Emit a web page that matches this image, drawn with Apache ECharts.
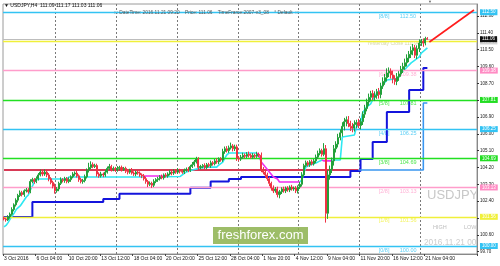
<!DOCTYPE html>
<html><head><meta charset="utf-8">
<script src="https://cdn.jsdelivr.net/npm/echarts@6/dist/echarts.min.js"></script>
<style>html,body{margin:0;padding:0;background:#fff}#c{width:500px;height:266px}</style>
</head><body><div id="c"></div>
<script>
// ---- DATA ----
const firstOpen = 101.50;
const closes = [
101.45,101.40,101.55,101.70,101.95,102.20,102.45,102.70,102.85,102.75,
102.95,103.00,102.90,103.45,103.55,103.45,103.60,103.80,103.95,103.85,
103.95,103.80,103.60,103.40,103.20,102.95,103.05,103.35,103.55,103.50,
103.60,103.45,103.55,103.70,103.85,103.90,103.75,103.55,103.45,103.50,
103.70,104.05,104.20,104.35,104.25,104.30,103.85,103.75,103.85,103.80,
103.95,104.15,104.25,104.10,104.15,104.05,104.15,104.20,104.10,104.15,
104.00,103.95,104.05,103.90,103.85,103.95,103.90,103.80,103.75,103.60,
103.45,103.30,103.35,103.25,103.45,103.55,103.60,103.70,103.65,103.80,
103.75,103.85,103.95,103.90,104.00,103.95,104.05,104.00,103.95,104.05,
104.10,104.05,104.25,104.35,104.50,104.65,104.20,104.25,104.30,104.20,
104.35,104.30,104.45,104.40,104.55,104.50,104.65,104.60,105.05,105.20,
105.10,105.25,105.35,105.20,105.30,104.70,104.65,104.75,104.85,104.80,
104.90,104.85,104.75,104.85,104.80,104.90,104.85,104.10,103.95,103.80,
103.60,103.35,103.10,102.95,103.05,102.75,102.90,103.05,102.95,103.10,
103.00,103.15,103.05,103.10,102.95,103.15,103.30,103.80,104.30,104.45,
104.35,104.50,104.40,104.55,104.75,104.95,105.10,104.90,105.20,101.75,
103.80,104.10,104.55,105.20,105.45,105.80,106.05,106.40,106.65,106.75,
106.55,106.40,106.30,106.50,106.60,106.45,106.65,107.05,107.35,107.70,
107.95,108.15,107.95,108.05,108.25,108.10,108.55,108.80,109.00,109.25,
109.35,109.15,108.95,108.80,109.05,109.20,109.45,109.60,109.80,110.05,
110.25,110.45,110.60,110.20,110.55,110.85,110.95,110.85,111.09,111.06];
// wick lengths in hundredths of a yen
const upperWick = [
8,6,10,9,12,8,10,9,12,10, 8,10,9,12,10,8,12,10,14,9, 15,12,10,8,9,14,10,9,12,8,
10,9,12,8,10,9,11,8,10,9, 12,10,25,18,12,10,10,9,12,8, 12,10,14,9,10,8,12,9,10,8,
9,10,8,12,9,8,10,9,8,10, 9,8,10,9,12,8,10,9,12,8, 10,9,12,8,10,9,12,8,10,9,
10,12,9,14,10,12,10,9,8,12, 9,10,12,9,10,14,9,10,15,12, 14,12,18,10,12,12,10,12,14,10,
12,15,10,12,9,14,10,15,12,10, 12,10,9,14,10,12,10,9,12,8, 10,9,12,8,10,9,12,15,10,12,
10,9,12,10,14,15,12,10,30,20, 25,20,18,20,15,20,18,22,20,18, 20,15,18,22,15,20,18,15,20,18,
20,15,18,22,15,20,18,22,20,25, 20,15,22,18,20,15,18,20,22,20, 18,22,20,15,18,20,12,15,10,8];
const lowerWick = [
8,10,6,9,8,10,9,12,8,10, 12,9,10,8,10,12,9,10,8,12, 10,12,14,10,12,15,10,12,9,10,
12,10,9,12,8,10,9,12,10,12, 10,9,12,10,9,8,14,10,9,12, 10,8,9,12,10,9,8,10,12,9,
10,12,9,8,10,12,9,10,12,10, 12,15,10,14,10,9,12,10,8,10, 9,10,8,12,10,9,10,12,9,10,
8,10,9,8,10,9,15,10,9,12, 10,9,12,10,9,10,12,9,10,12, 10,12,9,14,12,15,12,10,9,12,
10,12,9,10,12,9,10,15,12,14, 12,15,14,12,10,15,20,12,10,12, 10,12,9,10,12,14,10,12,10,9,
10,12,9,10,12,9,10,12,10,50, 30,25,20,25,20,18,15,20,22,25, 20,25,22,18,20,15,22,18,20,15,
20,22,15,20,18,22,20,15,18,20, 22,20,25,18,20,22,15,20,18,20, 22,20,25,15,20,18,15,20,12,3];

const slotCount = 234;
const dateTickIdx = [0,16,32,48,64,80,96,112,128,144,160,176,192,208];
const dateTickLabels = ["3 Oct 2016","6 Oct 04:00","10 Oct 20:00","13 Oct 12:00","18 Oct 04:00","20 Oct 20:00","25 Oct 12:00","28 Oct 04:00","1 Nov 20:00","4 Nov 12:00","9 Nov 04:00","11 Nov 20:00","16 Nov 12:00","21 Nov 04:00"];
const weekStartIdx = [27,57,87,117,147,177,207];
const priceTicks = [99.70,100.60,101.50,102.40,103.30,104.20,105.10,106.00,106.90,107.80,108.70,109.60,110.50,111.40,112.30];

const murreyValues = [100.00,101.56,103.13,104.69,106.25,107.81,109.38,110.94,112.50];
const murreyNames = ["[0/8]","[1/8]","[2/8]","[3/8]","[4/8]","[5/8]","[6/8]","[7/8]","[8/8]"];
const currentPrice = 111.06;

const cyanSeg1 = [[0,101.02],[1,101.10],[2,101.25],[3,101.44],[4,101.60],[5,101.76],[6,101.95],[7,102.05],[8,102.14],[9,102.30],[10,102.46],[11,102.62],[12,102.73],[13,103.00],[14,103.20],[15,103.42],[16,103.53],[17,103.58],[31,103.58],[32,103.69],[69,103.69]];
const magentaSeg1 = [[69,103.69],[70,103.74],[78,103.74],[79,103.70]];
const cyanSeg2 = [[79,103.70],[87,103.72],[88,103.80],[90,103.96],[93,104.06],[97,104.17],[101,104.22],[105,104.22],[106,104.33],[108,104.49],[109,104.70],[110,104.87],[111,104.97],[125,104.97]];
const magentaSeg2 = [[125,104.97],[126,104.76],[127,104.49],[129,104.22],[131,103.96],[133,103.69],[135,103.58],[136,103.42],[146,103.42]];
const cyanSeg3 = [[146,103.42],[147,103.53],[148,103.90],[149,104.22],[151,104.33],[154,104.44],[156,104.55],[157,104.60]];
const magentaSeg3 = [[157,104.60],[158,104.55],[162,104.55]];
const cyanSeg4 = [[162,104.60],[166,104.60],[167,105.83],[173,105.94],[174,106.36],[176,106.58],[177,107.11],[179,107.43],[181,107.60],[182,107.81],[184,108.18],[186,108.34],[187,108.61],[189,108.88],[194,108.95],[195,109.04],[196,109.25],[198,109.45],[199,109.57],[201,109.79],[203,109.95],[205,110.11],[206,110.32],[208,110.50],[209,110.59]];
const blueSteps = [[0,101.55],[14,102.35],[49,102.51],[57,102.80],[92,103.12],[102,103.45],[111,103.58],[117,103.69],[171,104.01],[176,104.65],[182,105.56],[189,107.17],[200,108.34],[207,109.52],[209,109.52]];
const lightBlueSteps = [[175,104.06],[207,107.65],[209,107.65]];
const redLevel = [[0,104.06],[175,104.06]];
const projection = [[210,110.91],[232,112.62]];

// ---- STYLE ----
const murreyColors = ['#33c3f3','#f0f03a','#ff9dcb','#22e022','#33c3f3','#22e022','#ff9dcb','#f0f03a','#33c3f3'];
const axisBoxColors = ['#33c3f3','#f0f03a','#ff8cc4','#22dd22','#33c3f3','#22dd22','#ff8cc4','#d2d2d2','#33c3f3'];
const FONT = 'Liberation Sans';

const cats = Array.from({length: slotCount}, (_, i) => String(i));
const candles = closes.map((c, i) => {
  const o = i === 0 ? firstOpen : closes[i - 1];
  const hi = Math.max(o, c) + upperWick[i] / 100;
  const lo = Math.min(o, c) - lowerWick[i] / 100;
  return [o, c, +lo.toFixed(2), +hi.toFixed(2)];
});
const tickLabelMap = {};
dateTickIdx.forEach((k, j) => tickLabelMap[k] = dateTickLabels[j]);

const levelMarks = murreyValues.map((v, k) => ({
  yAxis: v,
  lineStyle: {color: murreyColors[k], width: 1.3, type: 'solid'},
  label: {show: true, position: 'end', distance: 3, formatter: v.toFixed(2), color: '#fff',
          backgroundColor: axisBoxColors[k], padding: [1, 2, 0, 2], fontSize: 4.5, fontFamily: FONT}
}));
levelMarks.push({
  yAxis: currentPrice,
  lineStyle: {color: '#bdbdbd', width: 1, type: 'solid'},
  label: {show: true, position: 'end', distance: 3, formatter: currentPrice.toFixed(2), color: '#fff',
          backgroundColor: '#111', padding: [1, 2, 0, 2], fontSize: 4.5, fontFamily: FONT}
});

const innerLabels = murreyValues.map((v, k) => ({
  value: [185, v],
  label: {color: murreyColors[k], formatter: '{a|' + murreyNames[k] + '}{b|' + v.toFixed(2) + '}'}
})).filter((d, k) => k !== 7);

function lineSeries(data, color, width, extra) {
  return Object.assign({type: 'line', data: data, symbol: 'none', silent: true,
    lineStyle: {color: color, width: width}, z: 3}, extra || {});
}

const chart = echarts.init(document.getElementById('c'), null, {renderer: 'canvas'});
chart.setOption({
  animation: false,
  backgroundColor: '#fff',
  grid: {left: 3, right: 23, top: 4, bottom: 12, show: true, borderColor: '#9a9a9a', borderWidth: 1},
  xAxis: {
    type: 'category', data: cats, boundaryGap: true,
    axisLine: {show: true, lineStyle: {color: '#888'}},
    axisTick: {show: true, length: 2, interval: (i) => tickLabelMap[i] !== undefined, lineStyle: {color: '#444'}},
    axisLabel: {interval: (i) => tickLabelMap[i] !== undefined, formatter: (v, i) => tickLabelMap[+v] || '',
                fontSize: 5, color: '#111', align: 'left', margin: 2, fontFamily: FONT},
    splitLine: {show: true, interval: (i) => weekStartIdx.indexOf(i + 1) >= 0,
                lineStyle: {color: '#7a7a7a', type: [2, 2], width: 1}}
  },
  yAxis: {
    type: 'value', position: 'right', min: 99.572, max: 112.941, scale: true,
    splitLine: {show: false},
    axisLine: {show: true, lineStyle: {color: '#888'}},
    axisTick: {show: true, length: 2, customValues: priceTicks, lineStyle: {color: '#333'}},
    axisLabel: {customValues: priceTicks, formatter: (v) => v.toFixed(2), fontSize: 4.5, color: '#222', margin: 3, fontFamily: FONT}
  },
  series: [
    {type: 'line', data: [], z: 1, silent: true,
     markLine: {silent: true, symbol: ['none', 'none'], animation: false, data: levelMarks}},
    {type: 'scatter', data: innerLabels, symbolSize: 0, z: 1, silent: true,
     label: {show: true, position: [0, 1], align: 'left', verticalAlign: 'top', fontSize: 5.5, fontFamily: FONT,
             rich: {a: {width: 21, fontSize: 5.5, fontFamily: FONT}, b: {fontSize: 5.5, fontFamily: FONT}}}},
    lineSeries(redLevel, '#d83a56', 2),
    lineSeries(blueSteps, '#1414dc', 2, {step: 'end'}),
    lineSeries(lightBlueSteps, '#3a96f0', 1.6, {step: 'end'}),
    lineSeries(cyanSeg1, '#2ee8f2', 1.6),
    lineSeries(cyanSeg2, '#2ee8f2', 1.6),
    lineSeries(cyanSeg3, '#2ee8f2', 1.6),
    lineSeries(cyanSeg4, '#2ee8f2', 1.6),
    lineSeries(magentaSeg1, '#f02cf0', 1.6),
    lineSeries(magentaSeg2, '#f02cf0', 1.6),
    lineSeries(magentaSeg3, '#f02cf0', 1.6),
    {type: 'candlestick', data: candles, z: 5, silent: true, barWidth: '75%',
     itemStyle: {color: '#22a03a', color0: '#ee3344', borderColor: '#22a03a', borderColor0: '#ee3344', borderWidth: 1}},
    lineSeries(projection, '#ff1c1c', 1.6, {z: 6})
  ],
  graphic: [
    {type: 'text', left: 4, top: 3, z: 20, style: {text: '▼ USDJPY,H4  111.09 111.17 111.03 111.06', fill: '#111', font: '5px Liberation Sans'}},
    {type: 'text', left: 114, top: 10.5, z: 20, style: {text: '::: DateTime: 2016.11.21 09:20    Price: 111.06    TimeFrame:2007-v3_08    ° Default  :::', fill: '#555', font: '4.8px Liberation Sans'}},
    {type: 'text', left: 428, top: 0, z: 20, style: {text: '▼', fill: '#666', font: '4px Liberation Sans'}},
    {type: 'text', left: 367, top: 41.5, z: 0, style: {text: 'Yesterday Close 110.94', fill: '#d8d8a8', font: '5px Liberation Sans'}},
    {type: 'text', left: 427, top: 189, z: 0, style: {text: 'USDJPY', fill: '#c8c8c8', font: '13px Liberation Sans'}},
    {type: 'text', left: 433, top: 224.5, z: 0, style: {text: 'HIGH', fill: '#bdbdbd', font: '5.5px Liberation Sans'}},
    {type: 'text', left: 464, top: 224.5, z: 0, style: {text: 'LOW', fill: '#bdbdbd', font: '5.5px Liberation Sans'}},
    {type: 'text', left: 424, top: 238.5, z: 0, style: {text: '2016.11.21 00:00', fill: '#cdcdcd', font: '8.3px Liberation Sans', width: 57, overflow: 'truncate', ellipsis: ''}},
    {type: 'rect', shape: {x: 213, y: 227, width: 95, height: 17}, z: 20, style: {fill: 'rgba(140,178,78,0.85)'}},
    {type: 'text', x: 260.5, y: 235.5, z: 21, style: {text: 'freshforex.com', fill: '#fff', font: '13px Liberation Sans', align: 'center', verticalAlign: 'middle'}}
  ]
});
</script></body></html>
